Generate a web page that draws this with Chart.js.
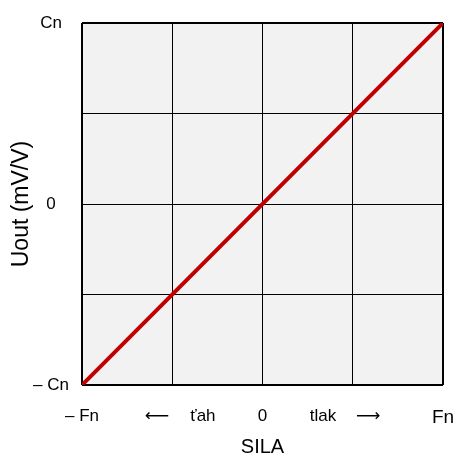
<!DOCTYPE html>
<html>
<head>
<meta charset="utf-8">
<script src="https://cdn.jsdelivr.net/npm/chart.js@4"></script>
<style>
  html, body { margin: 0; padding: 0; background: #fff; }
  #wrap { width: 462px; height: 460px; }
</style>
</head>
<body>
<div id="wrap"><canvas id="c"></canvas></div>
<script>
// --- data ---
const lineX = [-1, 1];
const lineY = [-1, 1];
const xTickValues = [-1, -0.585, -0.33, 0, 0.335, 0.585, 1];
const xTickLabels = ['\u2013 Fn', '\u27F5', '\u0165ah', '0', 'tlak', '\u27F6', 'Fn'];
const yTickValues = [-1, 0, 1];
const yTickLabels = ['\u2013 Cn', '0', 'Cn'];
const gridValues = [-1, -0.5, 0, 0.5, 1];

const FONT = "'Liberation Sans', 'DejaVu Sans', sans-serif";

const plotBg = {
  id: 'plotBg',
  beforeDraw(chart) {
    const a = chart.chartArea, ctx = chart.ctx;
    ctx.save();
    ctx.fillStyle = '#F2F2F2';
    ctx.fillRect(a.left, a.top, a.right - a.left, a.bottom - a.top);
    ctx.restore();
  }
};

const gridAxis = (pos) => ({
  type: 'linear',
  position: pos,
  min: -1, max: 1,
  afterBuildTicks: (s) => { s.ticks = gridValues.map(v => ({ value: v })); },
  afterFit: (s) => { if (pos === 'bottom') s.height = 0; else s.width = 0; },
  ticks: { display: false },
  border: { display: false },
  grid: {
    drawTicks: false,
    color: '#000',
    lineWidth: (c) => (c.tick && Math.abs(c.tick.value) === 1 ? 2 : 1)
  }
});

new Chart(document.getElementById('c'), {
  type: 'scatter',
  data: {
    datasets: [{
      data: lineX.map((x, i) => ({ x, y: lineY[i] })),
      showLine: true,
      borderColor: '#C00000',
      borderWidth: 4,
      pointRadius: 0,
      borderCapStyle: 'round',
      xAxisID: 'x',
      yAxisID: 'y'
    }]
  },
  options: {
    responsive: true,
    maintainAspectRatio: false,
    animation: false,
    layout: { padding: { top: 23, right: 19, left: 0, bottom: 0 } },
    plugins: { legend: { display: false }, tooltip: { enabled: false } },
    scales: {
      gx: gridAxis('bottom'),
      gy: gridAxis('left'),
      x: {
        type: 'linear',
        position: 'bottom',
        min: -1, max: 1,
        afterBuildTicks: (s) => { s.ticks = xTickValues.map(v => ({ value: v })); },
        afterFit: (s) => { s.height = 75; s.paddingLeft = 0; s.paddingRight = 0; },
        grid: { display: false, drawTicks: false },
        border: { display: false },
        ticks: {
          autoSkip: false,
          maxRotation: 0,
          padding: 21,
          color: '#000',
          callback: (v, i) => xTickLabels[i],
          font: (c) => ({ family: FONT, size: c.index === 6 ? 19 : 17 })
        },
        title: {
          display: true,
          text: 'SILA',
          color: '#000',
          font: { family: FONT, size: 20 },
          padding: { top: 0, bottom: 1 }
        }
      },
      y: {
        type: 'linear',
        position: 'left',
        min: -1, max: 1,
        afterBuildTicks: (s) => { s.ticks = yTickValues.map(v => ({ value: v })); },
        afterFit: (s) => { s.width = 82; s.paddingTop = 0; s.paddingBottom = 0; },
        grid: { display: false, drawTicks: false },
        border: { display: false },
        ticks: {
          crossAlign: 'center',
          padding: 13,
          color: '#000',
          callback: (v, i) => yTickLabels[i],
          font: { family: FONT, size: 17 }
        },
        title: {
          display: true,
          text: 'Uout (mV/V)',
          color: '#000',
          font: { family: FONT, size: 23 },
          padding: { top: 8, bottom: 0 }
        }
      }
    }
  },
  plugins: [plotBg]
});
</script>
</body>
</html>
